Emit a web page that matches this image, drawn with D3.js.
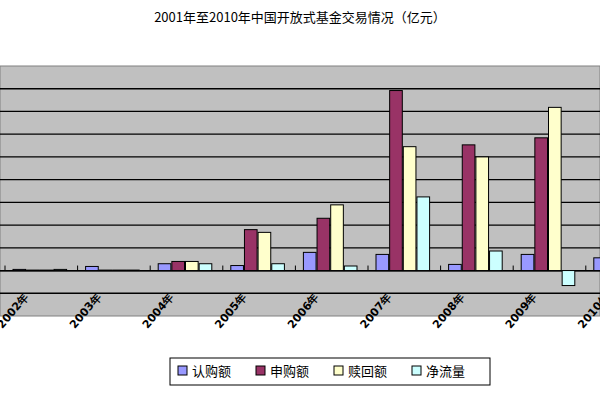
<!DOCTYPE html><html><head><meta charset="utf-8">
<script src="https://d3js.org/d3.v7.min.js"></script>
<style>body{margin:0;background:#fff}</style></head><body><svg id="c" width="600" height="400"></svg>
<script>
const years=["2001","2002","2003","2004","2005","2006","2007","2008","2009","2010"];
const seriesNames=["认购额","申购额","赎回额","净流量"];
const colors=["#9999ff","#993366","#ffffcc","#ccffff"];
// values in gridline units (axis labels are cropped out of the reference)
const subscribe=[0.1,0.05,0.18,0.3,0.22,0.8,0.71,0.27,0.71,0.56];
const purchase=[0.1,0.02,0.02,0.4,1.8,2.3,7.92,5.53,5.84,7.3];
const redeem=[0.1,0.02,0.02,0.4,1.68,2.89,5.45,5.0,7.18,6.5];
const netflow=[0.1,0.05,0.02,0.3,0.3,0.2,3.24,0.86,-0.66,1.2];
const yTicks=[-2,-1,0,1,2,3,4,5,6,7,8,9];
const data=[subscribe,purchase,redeem,netflow];
const svg=d3.select("#c");
const plotTop=66,plotBottom=316;
const y=d3.scaleLinear().domain([-2,9]).range([plotBottom,plotTop]);
const x=d3.scaleBand().domain(years).range([-67.6,658.4]);
const inner=d3.scaleBand().domain(d3.range(4)).range([8,x.bandwidth()-10]);
svg.append("text").attr("x",300).attr("y",22).attr("text-anchor","middle")
 .attr("font-family","'Noto Sans CJK SC',sans-serif").attr("font-size",13).text("2001年至2010年中国开放式基金交易情况（亿元）");
svg.append("rect").attr("x",0).attr("y",plotTop).attr("width",600).attr("height",plotBottom-plotTop).attr("fill","#c0c0c0").attr("stroke","#808080");
svg.append("g").selectAll("line").data(yTicks.slice(1,-1)).join("line")
 .attr("x1",0).attr("x2",600).attr("y1",d=>y(d)).attr("y2",d=>y(d)).attr("stroke","#000").attr("stroke-width",1.3);
const ax=svg.append("g").attr("transform",`translate(0,${y(0)})`)
 .call(d3.axisBottom(x).tickSize(0).tickFormat(""));
ax.select(".domain").attr("stroke","#000");
svg.append("g").selectAll("line").data(years).join("line")
 .attr("x1",d=>x(d)).attr("x2",d=>x(d)).attr("y1",y(0)).attr("y2",y(0)-5).attr("stroke","#000");
data.forEach((s,i)=>{
 svg.append("g").selectAll("rect").data(s).join("rect")
  .attr("x",(d,j)=>x(years[j])+inner(i)).attr("width",inner.bandwidth()-1)
  .attr("y",d=>y(Math.max(0,d))).attr("height",d=>Math.abs(y(d)-y(0)))
  .attr("fill",colors[i]).attr("stroke","#000").attr("stroke-width",1);
});
svg.append("g").selectAll("text").data(years).join("text")
 .attr("transform",d=>`translate(${x(d)+24},${y(-1)+4}) rotate(-50)`)
 .attr("text-anchor","end").attr("font-family","'DejaVu Sans',sans-serif").attr("font-size",11).attr("font-weight","bold")
 .text(d=>d+"年");
const lg=svg.append("g");
lg.append("rect").attr("x",170).attr("y",358).attr("width",320).attr("height",27).attr("fill","#fff").attr("stroke","#000");
seriesNames.forEach((n,i)=>{
 const gx=178+i*78;
 lg.append("rect").attr("x",gx).attr("y",366).attr("width",9).attr("height",9).attr("fill",colors[i]).attr("stroke","#000");
 lg.append("text").attr("x",gx+14).attr("y",376).attr("font-family","'Noto Sans CJK SC',sans-serif").attr("font-size",13).text(n);
});
</script></body></html>
